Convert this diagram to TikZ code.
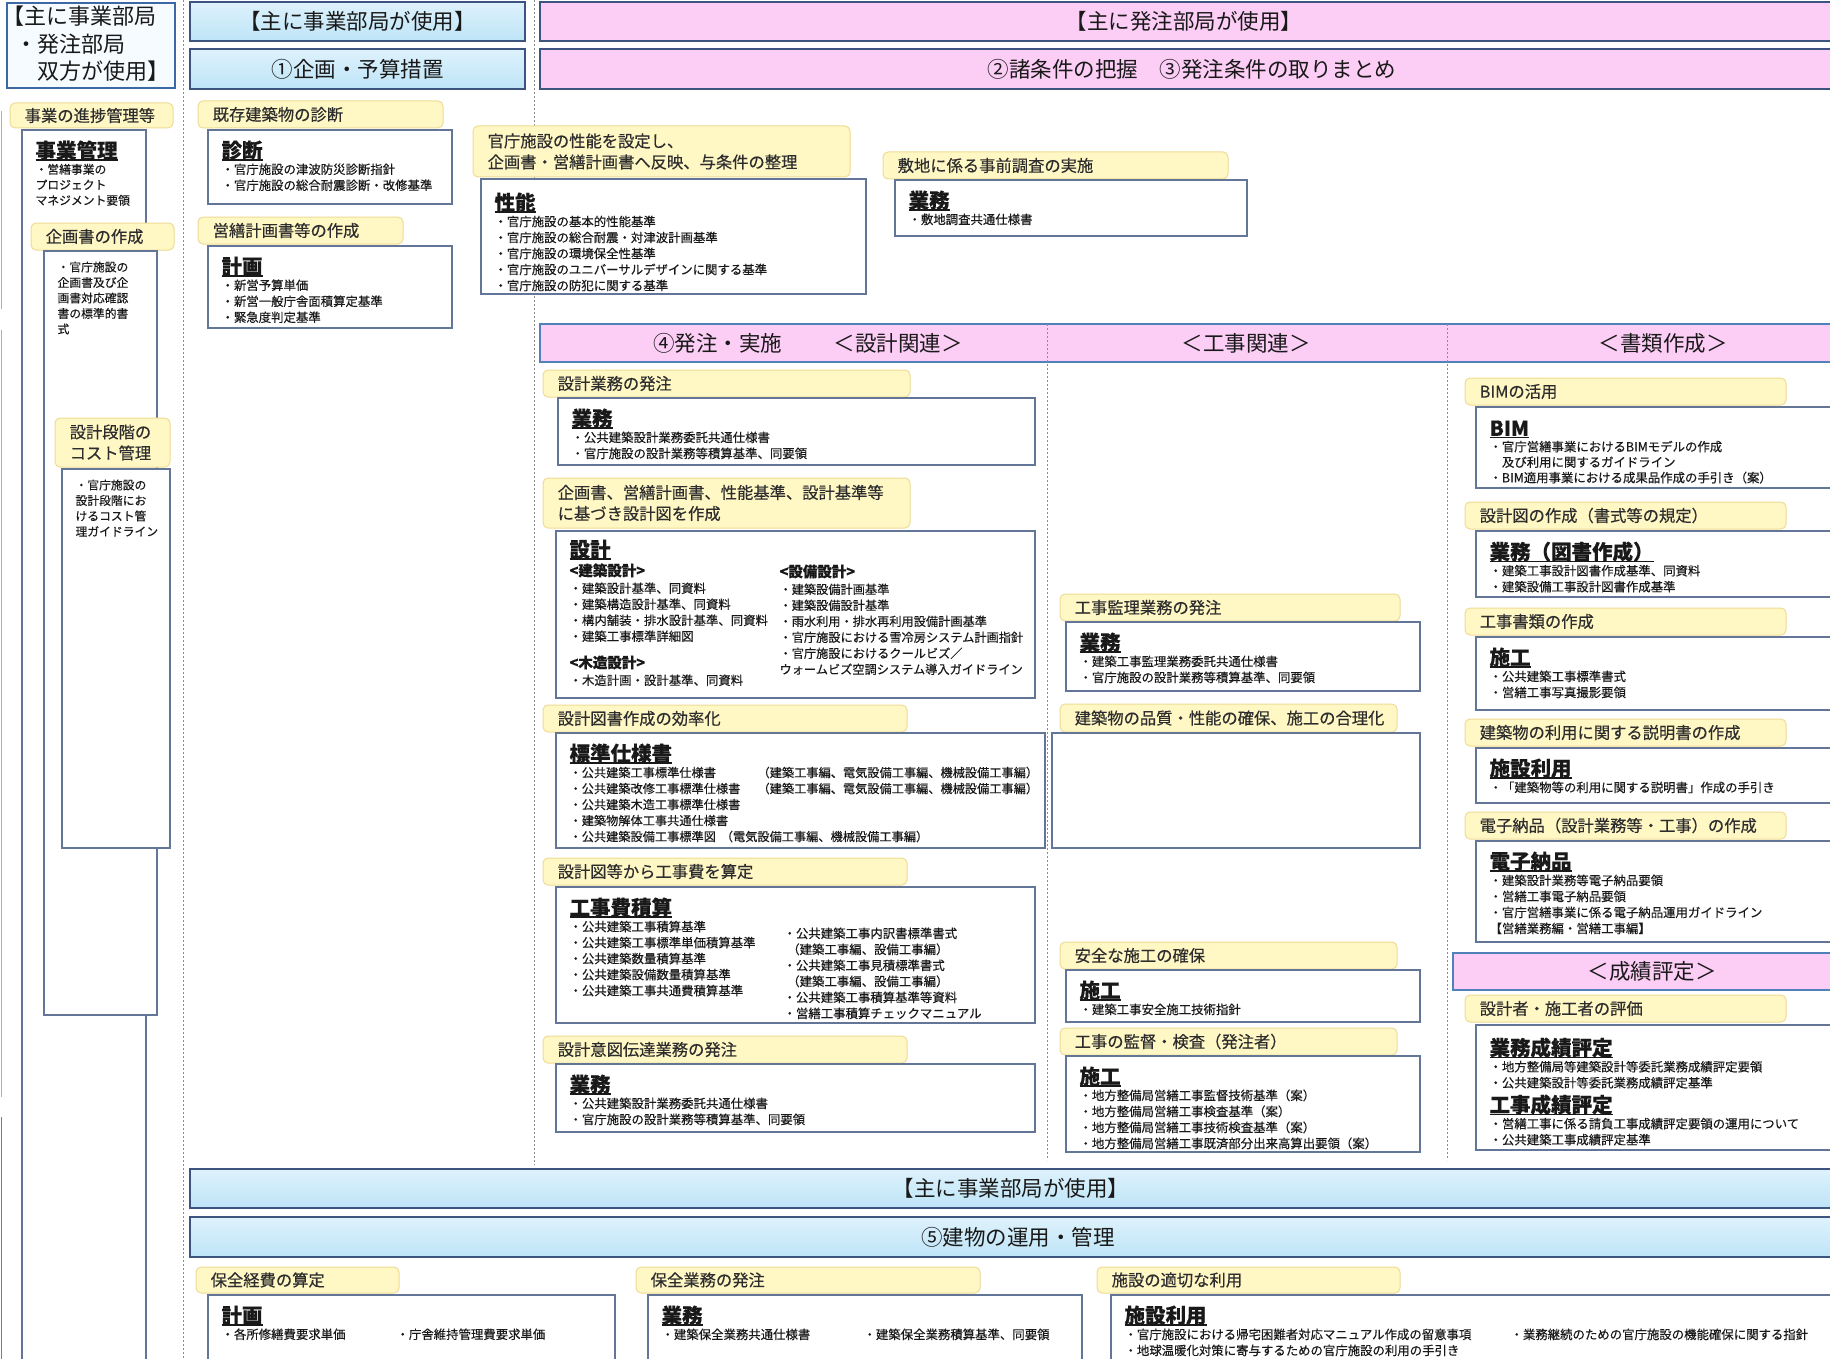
\documentclass[tikz,border=0pt]{standalone}
\usepackage{fontspec}
\setmainfont{Noto Sans CJK JP}
\newfontfamily\itf{Noto Sans CJK JP}[FakeBold=0.35]
\usetikzlibrary{fit,shadows}
\definecolor{bandblue}{RGB}{190,228,247}
\definecolor{bandbluetop}{RGB}{222,242,252}
\definecolor{bandedge}{RGB}{62,84,128}
\definecolor{pinkfill}{RGB}{252,206,246}
\definecolor{barblue}{RGB}{80,130,185}
\definecolor{lblfill}{RGB}{255,247,196}
\definecolor{lbledge}{RGB}{238,220,150}
\definecolor{boxedge}{RGB}{100,118,152}
\definecolor{dotgray}{RGB}{140,140,140}
\definecolor{txt}{RGB}{25,25,25}
\definecolor{lbltxtc}{RGB}{45,45,45}
\definecolor{tlfill}{RGB}{246,251,255}
\definecolor{tledge}{RGB}{60,105,165}
\definecolor{leftteal}{RGB}{120,200,190}
\definecolor{leftblue}{RGB}{90,130,180}
\tikzset{
 band/.style={draw=bandedge, line width=1.4pt, top color=bandbluetop, bottom color=bandblue, inner sep=0pt},
 pband/.style={draw=bandedge, line width=1.4pt, fill=pinkfill, inner sep=0pt},
 pbar/.style={draw=barblue, line width=2.2pt, fill=pinkfill, inner sep=0pt},
 tlbox/.style={draw=tledge, line width=1.6pt, fill=tlfill, inner sep=0pt},
 lblbox/.style={draw=lbledge, line width=1pt, fill=lblfill, rounded corners=5pt, inner sep=0pt},
 cbox/.style={draw=boxedge, line width=1.3pt, fill=white, inner sep=0pt, drop shadow={shadow xshift=1.3pt, shadow yshift=-1.3pt, fill=black!30}},
 bandtxt/.style={font=\fontsize{21.5}{27}\selectfont, text=txt, inner sep=0pt},
 lbltxt/.style={font=\itf\fontsize{16.3}{21}\selectfont, text=lbltxtc, inner sep=0pt, align=left},
 ctxt/.style={font=\itf\fontsize{12.4}{16}\selectfont, text=txt, inner sep=0pt, align=left},
 smalltxt/.style={font=\itf\fontsize{11.8}{15.5}\selectfont},
 dotline/.style={draw=dotgray, line width=0.9pt, dash pattern=on 2pt off 2pt},
}
\newcommand\hd[1]{{\fontsize{20.5}{20}\selectfont\bfseries\setbox0=\hbox{#1}\rlap{\rule[-2.6pt]{\wd0}{1.4pt}}\box0}}
\newcommand\subh[1]{{\fontsize{14.5}{16}\selectfont\bfseries #1}}
\newcommand\bnd[6][band]{%
  \coordinate (#2-a) at (#3,#4); \coordinate (#2-b) at (#5,#6);
  \node[#1, fit=(#2-a)(#2-b)] (#2) {};}
\newcommand\lbx[6]{%
  \coordinate (#1-a) at (#2,#3); \coordinate (#1-b) at (#4,#5);
  \node[lblbox, fit=(#1-a)(#1-b)] (#1) {};
  \node[lbltxt, anchor=west] (#1-t) at ([xshift=15pt]#1.west) {#6};}
\newcommand\cbx[7][]{%
  \coordinate (#2-a) at (#3,#4); \coordinate (#2-b) at (#5,#6);
  \node[cbox, fit=(#2-a)(#2-b)] (#2) {};
  \node[ctxt, anchor=north west, #1] (#2-t) at ([shift={(14pt,-11pt)}]#2.north west) {#7};}
\begin{document}
\begin{tikzpicture}[x=1pt,y=-1pt]
\useasboundingbox (0,0) rectangle (1830,1359);
\clip (0,0) rectangle (1830,1359);
\fill[white] (0,0) rectangle (1830,1359);
% dividers
\draw[dotline] (183,0) -- (183,1359);
\draw[dotline] (534,0) -- (534,1165);
\draw[leftteal, line width=1.6pt] (1.5,111) -- (1.5,309);
\draw[leftteal, line width=1.6pt] (1.5,330) -- (1.5,1097);
\draw[leftblue, line width=1.6pt] (1.5,1117) -- (1.5,1359);
% top bands
\bnd[tlbox]{btl}{7}{3}{175}{88}
\node[bandtxt, align=left, anchor=north west, font=\fontsize{22}{27.5}\selectfont] (btl-t) at (2,6) {【主に事業部局\\\hspace*{0.6em}・発注部局\\\hspace*{1.6em}双方が使用】};
\bnd{bj1}{190}{2}{525}{41}
\node[bandtxt] (bj1-t) at (bj1.center) {【主に事業部局が使用】};
\bnd{bkk}{190}{49}{525}{89}
\node[bandtxt] (bkk-t) at (bkk.center) {①企画・予算措置};
\bnd[pband]{ph}{540}{2}{1845}{41}
\node[bandtxt] (ph-t) at (1184,21.5) {【主に発注部局が使用】};
\bnd[pband]{ps}{540}{49}{1845}{89}
\node[bandtxt] (ps-t) at (1192,69) {②諸条件の把握　③発注条件の取りまとめ};
% left column
\lbx{lshin}{10}{103}{173}{128}{事業の進捗管理等}
\cbx[smalltxt]{cjig}{22}{130}{146}{1420}{\hd{事業管理}\\・営繕事業の\\プロジェクト\\マネジメント要領}
\lbx{lkik}{31}{223}{174}{250}{企画書の作成}
\cbx[smalltxt]{ckik}{44}{251}{157}{1015}{・官庁施設の\\企画書及び企\\画書対応確認\\書の標準的書\\式}
\lbx{lcost}{55}{418}{170}{467}{設計段階の\\コスト管理}
\cbx[smalltxt]{ccost}{62}{469}{170}{848}{・官庁施設の\\設計段階にお\\けるコスト管\\理ガイドライン}
% column 1
\lbx{lkison}{198}{101}{443}{128}{既存建築物の診断}
\cbx{cshin}{208}{130}{452}{204}{\hd{診断}\\・官庁施設の津波防災診断指針\\・官庁施設の総合耐震診断・改修基準}
\lbx{leiz}{198}{217}{403}{244}{営繕計画書等の作成}
\cbx{ckei}{208}{246}{452}{328}{\hd{計画}\\・新営予算単価\\・新営一般庁舎面積算定基準\\・緊急度判定基準}
% pink upper
\lbx{lseino}{473}{126}{850}{177}{官庁施設の性能を設定し、\\企画書・営繕計画書へ反映、与条件の整理}
\cbx[yshift=-3pt]{cseino}{481}{179}{866}{294}{\hd{性能}\\・官庁施設の基本的性能基準\\・官庁施設の総合耐震・対津波計画基準\\・官庁施設の環境保全性基準\\・官庁施設のユニバーサルデザインに関する基準\\・官庁施設の防犯に関する基準}
\lbx{lshik}{883}{152}{1228}{179}{敷地に係る事前調査の実施}
\cbx{cshik}{895}{180}{1247}{236}{\hd{業務}\\・敷地調査共通仕様書}
% section 4 bar
\bnd[pbar]{sfour}{540}{324}{1845}{362}
\draw[dotline] (1047,324) -- (1047,1160);
\draw[dotline] (1447,324) -- (1447,1160);
\node[bandtxt] (sfour-a) at (808,343) {④発注・実施\hspace{2.4em}＜設計関連＞};
\node[bandtxt] (sfour-b) at (1246,343) {＜工事関連＞};
\node[bandtxt] (sfour-c) at (1663,343) {＜書類作成＞};
% design column
\lbx{lsgh}{543}{370}{910}{397}{設計業務の発注}
\cbx{csgh}{558}{398}{1035}{465}{\hd{業務}\\・公共建築設計業務委託共通仕様書\\・官庁施設の設計業務等積算基準、同要領}
\lbx{lszu}{543}{478}{910}{528}{企画書、営繕計画書、性能基準、設計基準等\\に基づき設計図を作成}
\cbx[yshift=2pt]{csek}{556}{531}{1035}{698}{\hd{設計}\\[3pt]\subh{<建築設計>}\\[1pt]・建築設計基準、同資料\\・建築構造設計基準、同資料\\・構内舗装・排水設計基準、同資料\\・建築工事標準詳細図\\[11pt]\subh{<木造設計>}\\[1pt]・木造計画・設計基準、同資料}
\node[ctxt, anchor=north west, font=\itf\fontsize{12.2}{16}\selectfont] (csek-r) at ([shift={(224pt,-34pt)}]csek.north west) {\subh{<設備設計>}\\[1pt]・建築設備計画基準\\・建築設備設計基準\\・雨水利用・排水再利用設備計画基準\\・官庁施設における雪冷房システム計画指針\\・官庁施設におけるクールビズ／\\ウォームビズ空調システム導入ガイドライン};
\lbx{lkor}{543}{705}{907}{732}{設計図書作成の効率化}
\cbx[font=\itf\fontsize{12.2}{16}\selectfont]{chyo}{556}{733}{1045}{848}{\hd{標準仕様書}\\\makebox[188pt][l]{・公共建築工事標準仕様書}（建築工事編、電気設備工事編、機械設備工事編）\\\makebox[188pt][l]{・公共建築改修工事標準仕様書}（建築工事編、電気設備工事編、機械設備工事編）\\・公共建築木造工事標準仕様書\\・建築物解体工事共通仕様書\\・公共建築設備工事標準図\hspace{0.4em}（電気設備工事編、機械設備工事編）}
\lbx{lkhi}{543}{858}{907}{885}{設計図等から工事費を算定}
\cbx{ckhi}{556}{887}{1035}{1023}{\hd{工事費積算}\\・公共建築工事積算基準\\・公共建築工事標準単価積算基準\\・公共建築数量積算基準\\・公共建築設備数量積算基準\\・公共建築工事共通費積算基準}
\node[ctxt, anchor=north west] (ckhi-r) at ([shift={(228pt,-41pt)}]ckhi.north west) {・公共建築工事内訳書標準書式\\\hspace*{0.3em}（建築工事編、設備工事編）\\・公共建築工事見積標準書式\\\hspace*{0.3em}（建築工事編、設備工事編）\\・公共建築工事積算基準等資料\\・営繕工事積算チェックマニュアル};
\lbx{lito}{543}{1036}{907}{1063}{設計意図伝達業務の発注}
\cbx{cito}{556}{1064}{1035}{1132}{\hd{業務}\\・公共建築設計業務委託共通仕様書\\・官庁施設の設計業務等積算基準、同要領}
% construction column
\lbx{lkan}{1060}{594}{1400}{621}{工事監理業務の発注}
\cbx{ckan}{1066}{622}{1420}{691}{\hd{業務}\\・建築工事監理業務委託共通仕様書\\・官庁施設の設計業務等積算基準、同要領}
\lbx{lhin}{1060}{704}{1397}{732}{建築物の品質・性能の確保、施工の合理化}
\draw[cbox] (1052,733) rectangle (1420,848);
\lbx{lanz}{1060}{942}{1397}{969}{安全な施工の確保}
\cbx{canz}{1066}{970}{1420}{1022}{\hd{施工}\\・建築工事安全施工技術指針}
\lbx{lkant}{1060}{1028}{1397}{1055}{工事の監督・検査（発注者）}
\cbx{ckant}{1066}{1056}{1420}{1152}{\hd{施工}\\・地方整備局営繕工事監督技術基準（案）\\・地方整備局営繕工事検査基準（案）\\・地方整備局営繕工事技術検査基準（案）\\・地方整備局営繕工事既済部分出来高算出要領（案）}
% documents column
\lbx{lbim}{1465}{378}{1786}{405}{BIMの活用}
\cbx[font=\itf\fontsize{12.4}{15.5}\selectfont, yshift=-3pt]{cbim}{1476}{407}{1845}{488}{\hd{BIM}\\・官庁営繕事業におけるBIMモデルの作成\\　及び利用に関するガイドライン\\・BIM適用事業における成果品作成の手引き（案）}
\lbx{lzus}{1465}{502}{1786}{529}{設計図の作成（書式等の規定）}
\cbx{czus}{1476}{531}{1845}{597}{\hd{業務（図書作成）}\\・建築工事設計図書作成基準、同資料\\・建築設備工事設計図書作成基準}
\lbx{lksh}{1465}{608}{1786}{635}{工事書類の作成}
\cbx{cksh}{1476}{637}{1845}{710}{\hd{施工}\\・公共建築工事標準書式\\・営繕工事写真撮影要領}
\lbx{lset}{1465}{719}{1786}{746}{建築物の利用に関する説明書の作成}
\cbx{cset}{1476}{748}{1845}{803}{\hd{施設利用}\\・「建築物等の利用に関する説明書」作成の手引き}
\lbx{lden}{1465}{812}{1786}{839}{電子納品（設計業務等・工事）の作成}
\cbx{cden}{1476}{841}{1845}{942}{\hd{電子納品}\\・建築設計業務等電子納品要領\\・営繕工事電子納品要領\\・官庁営繕事業に係る電子納品運用ガイドライン\\【営繕業務編・営繕工事編】}
\bnd[pbar]{ssei}{1453}{953}{1845}{990}
\node[bandtxt] (ssei-t) at (1652,971.5) {＜成績評定＞};
\lbx{lhyo}{1465}{995}{1786}{1022}{設計者・施工者の評価}
\cbx[yshift=-2pt]{chyt}{1476}{1025}{1845}{1150}{\hd{業務成績評定}\\・地方整備局等建築設計等委託業務成績評定要領\\・公共建築設計等委託業務成績評定基準\\[5pt]\hd{工事成績評定}\\・営繕工事に係る請負工事成績評定要領の運用について\\・公共建築工事成績評定基準}
% bottom
\bnd{bj2}{190}{1169}{1845}{1208}
\node[bandtxt] (bj2-t) at (1011,1188.5) {【主に事業部局が使用】};
\bnd{bun}{190}{1217}{1845}{1257}
\node[bandtxt] (bun-t) at (1018,1237) {⑤建物の運用・管理};
\lbx{lhk}{196}{1267}{399}{1293}{保全経費の算定}
\cbx{chk}{208}{1295}{615}{1420}{\hd{計画}\\\makebox[175pt][l]{・各所修繕費要求単価}・庁舎維持管理費要求単価}
\lbx{lhg}{636}{1267}{980}{1293}{保全業務の発注}
\cbx{chg}{648}{1295}{1082}{1420}{\hd{業務}\\\makebox[202pt][l]{・建築保全業務共通仕様書}・建築保全業務積算基準、同要領}
\lbx{ltk}{1097}{1267}{1400}{1293}{施設の適切な利用}
\cbx{ctk}{1111}{1295}{1845}{1420}{\hd{施設利用}\\\makebox[386pt][l]{・官庁施設における帰宅困難者対応マニュアル作成の留意事項}・業務継続のための官庁施設の機能確保に関する指針\\・地球温暖化対策に寄与するための官庁施設の利用の手引き}
\end{tikzpicture}
\end{document}
